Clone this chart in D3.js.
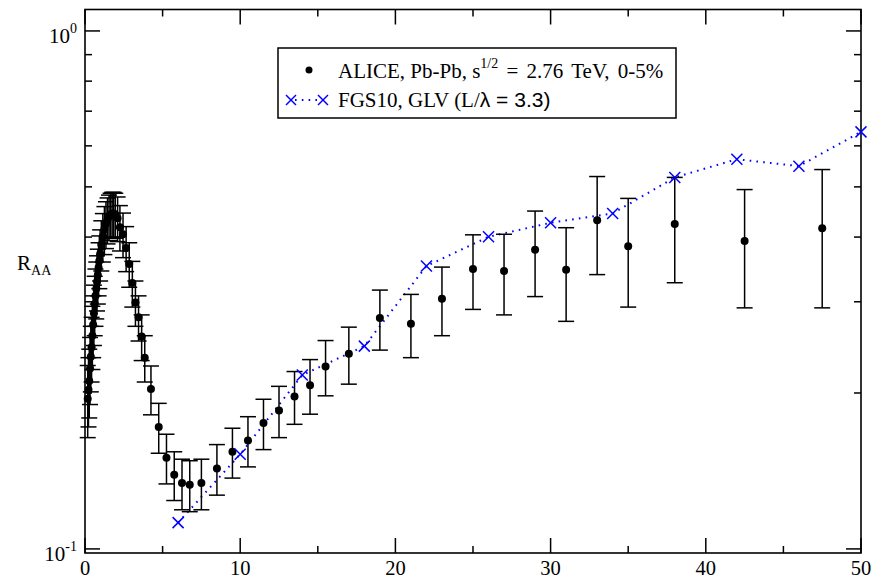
<!DOCTYPE html>
<html><head><meta charset="utf-8">
<script src="https://cdn.jsdelivr.net/npm/d3@7"></script>
<style>
html,body{margin:0;padding:0;background:#fff;}
text{font-family:"Liberation Serif","Times New Roman",serif;fill:#000;}
</style></head>
<body><svg id="c" width="873" height="580"></svg>
<script>
// ALICE Pb-Pb 0-5% data
const alicePt = [0.175,0.225,0.275,0.325,0.375,0.425,0.475,0.525,0.575,0.625,0.675,0.725,0.775,0.825,0.875,0.925,0.975,
  1.05,1.15,1.25,1.35,1.45,1.55,1.65,1.75,1.85,1.95,
  2.1,2.25,2.45,2.65,2.85,3.05,3.25,3.45,3.65,3.85,4.25,4.75,5.25,5.75,6.25,6.75,7.5,8.5,9.5,10.5,
  11.5,12.5,13.5,14.5,15.5,17,19,21,23,25,27,29,31,33,35,38,42.5,47.5];
const aliceRaa = [0.195,0.203,0.211,0.223,0.235,0.245,0.258,0.271,0.285,0.297,0.308,0.318,0.328,0.338,0.349,0.360,0.371,
  0.387,0.401,0.414,0.424,0.432,0.438,0.442,0.444,0.444,0.442,
  0.435,0.418,0.405,0.381,0.355,0.326,0.299,0.280,0.257,0.234,0.2035,0.172,0.150,0.139,0.134,0.133,0.134,0.143,0.154,0.162,
  0.175,0.185,0.197,0.207,0.225,0.238,0.279,0.272,0.304,0.347,0.344,0.378,0.346,0.431,0.384,0.424,0.393,0.416];
const aliceErr = [0.031,0.031,0.032,0.033,0.034,0.035,0.036,0.037,0.038,0.039,0.039,0.040,0.040,0.041,0.041,0.042,0.042,
  0.043,0.043,0.044,0.044,0.044,0.044,0.044,0.044,0.044,0.044,
  0.043,0.042,0.040,0.038,0.035,0.033,0.030,0.028,0.026,0.024,0.022,0.019,0.0165,0.015,0.015,0.015,0.015,0.016,0.017,0.018,
  0.0195,0.021,0.023,0.025,0.0275,0.030,0.037,0.038,0.046,0.057,0.061,0.071,0.071,0.0925,0.091,0.0975,0.101,0.124];
// FGS10 GLV model
const modelPt = [6,10,14,18,22,26,30,34,38,42,46,50];
const modelRaa = [0.1124,0.1523,0.2166,0.2463,0.3516,0.4004,0.4262,0.4443,0.5214,0.5654,0.5482,0.6385];
const xTickLabels = [0,10,20,30,40,50];
const xMinorTicks = [5,15,25,35,45];
const yMajorTicks = [0.1,1];
const yMinorTicks = [0.2,0.3,0.4,0.5,0.6,0.7,0.8,0.9];

const L=85,R=861,T=9.5,B=553;
const svg=d3.select("#c");
const x=d3.scaleLinear().domain([0,50]).range([L,R]);
const y=d3.scaleLog().domain([0.0982,1.1]).range([B,T]);

// frame
svg.append("rect").attr("x",L).attr("y",T).attr("width",R-L).attr("height",B-T)
  .attr("fill","none").attr("stroke","#000").attr("stroke-width",1.6);

// ticks inward
const tk=svg.append("g").attr("stroke","#000").attr("stroke-width",1.5);
xTickLabels.forEach(v=>{
  tk.append("line").attr("x1",x(v)).attr("x2",x(v)).attr("y1",B).attr("y2",B-15);
  tk.append("line").attr("x1",x(v)).attr("x2",x(v)).attr("y1",T).attr("y2",T+15);
});
xMinorTicks.forEach(v=>{
  tk.append("line").attr("x1",x(v)).attr("x2",x(v)).attr("y1",B).attr("y2",B-7);
  tk.append("line").attr("x1",x(v)).attr("x2",x(v)).attr("y1",T).attr("y2",T+7);
});
yMajorTicks.forEach(v=>{
  tk.append("line").attr("x1",L).attr("x2",L+15).attr("y1",y(v)).attr("y2",y(v));
  tk.append("line").attr("x1",R).attr("x2",R-15).attr("y1",y(v)).attr("y2",y(v));
});
yMinorTicks.forEach(v=>{
  tk.append("line").attr("x1",L).attr("x2",L+7).attr("y1",y(v)).attr("y2",y(v));
  tk.append("line").attr("x1",R).attr("x2",R-7).attr("y1",y(v)).attr("y2",y(v));
});

// x labels
xTickLabels.forEach(v=>{
  svg.append("text").attr("x",x(v)).attr("y",574.5).attr("text-anchor","middle")
    .attr("font-size",20.5).text(v);
});
// y labels
[[1,"0"],[0.1,"-1"]].forEach(([v,e])=>{
  const t=svg.append("text").attr("x",77).attr("y",y(v)+12).attr("text-anchor","end").attr("font-size",21);
  t.append("tspan").text("10");
  t.append("tspan").attr("dy",-10).attr("font-size",14).text(e);
});
// axis title
const yt=svg.append("text").attr("x",17).attr("y",270).attr("font-size",21);
yt.append("tspan").text("R");
yt.append("tspan").attr("dy",5).attr("font-size",14).text("AA");

// model dotted line
const line=d3.line().x((d,i)=>x(modelPt[i])).y((d,i)=>y(modelRaa[i]));
svg.append("path").datum(modelRaa).attr("d",line).attr("fill","none")
  .attr("stroke","#0000ff").attr("stroke-width",2).attr("stroke-dasharray","1.6,5.2");

// error bars
const eb=svg.append("g").attr("stroke","#000").attr("stroke-width",1.5);
alicePt.forEach((p,i)=>{
  const xp=x(p), y1=y(aliceRaa[i]+aliceErr[i]), y2=y(aliceRaa[i]-aliceErr[i]);
  eb.append("line").attr("x1",xp).attr("x2",xp).attr("y1",y1).attr("y2",y2);
  eb.append("line").attr("x1",xp-8).attr("x2",xp+8).attr("y1",y1).attr("y2",y1);
  eb.append("line").attr("x1",xp-8).attr("x2",xp+8).attr("y1",y2).attr("y2",y2);
});
// dots
svg.append("g").selectAll("circle").data(alicePt).join("circle")
  .attr("cx",d=>x(d)).attr("cy",(d,i)=>y(aliceRaa[i])).attr("r",4).attr("fill","#000");

// model crosses
function cross(g,cx,cy,s){
  g.append("line").attr("x1",cx-s).attr("x2",cx+s).attr("y1",cy-s).attr("y2",cy+s);
  g.append("line").attr("x1",cx-s).attr("x2",cx+s).attr("y1",cy+s).attr("y2",cy-s);
}
const cg=svg.append("g").attr("stroke","#0000ff").attr("stroke-width",1.5);
modelPt.forEach((p,i)=>cross(cg,x(p),y(modelRaa[i]),5.5));

// legend
svg.append("rect").attr("x",278).attr("y",48).attr("width",398).attr("height",70)
  .attr("fill","#fff").attr("stroke","#000").attr("stroke-width",1.5);
svg.append("circle").attr("cx",309).attr("cy",70).attr("r",3.5).attr("fill","#000");
const lg=svg.append("g").attr("stroke","#0000ff").attr("stroke-width",1.5);
lg.append("line").attr("x1",291).attr("x2",323).attr("y1",100).attr("y2",100)
  .attr("stroke-width",2).attr("stroke-dasharray","1.6,5.2").attr("stroke-dashoffset",-4);
cross(lg,291,100,5);
cross(lg,323,100,5);
const t1=svg.append("text").attr("x",338).attr("y",78).attr("font-size",21);
t1.append("tspan").text("ALICE, Pb-Pb, s");
t1.append("tspan").attr("dy",-10).attr("font-size",14).text("1/2");
t1.append("tspan").attr("dy",10).attr("word-spacing",3).text(" = 2.76 TeV, 0-5%");
const t2=svg.append("text").attr("x",338).attr("y",107).attr("font-size",21);
t2.append("tspan").text("FGS10, GLV (L/");
t2.append("tspan").style("font-family","'Liberation Sans',Arial,sans-serif").text("λ = 3.3)");
</script></body></html>
